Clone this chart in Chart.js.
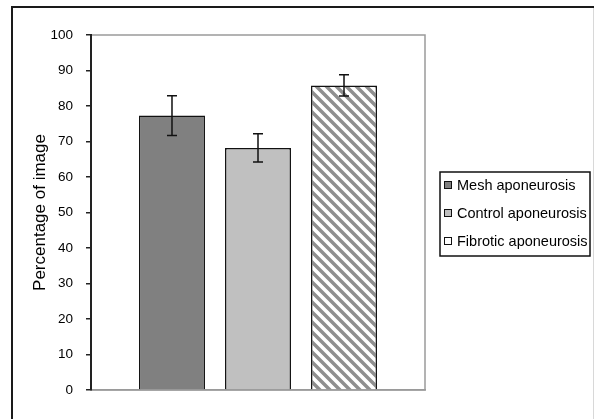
<!DOCTYPE html>
<html>
<head>
<meta charset="utf-8">
<script src="https://cdn.jsdelivr.net/npm/chart.js@4/dist/chart.umd.min.js"></script>
<style>
  html, body { margin: 0; padding: 0; background: #fff; }
  #wrap { position: relative; width: 594px; height: 419px; }
</style>
</head>
<body>
<div id="wrap"><canvas id="c" width="594" height="419"></canvas></div>
<script>
// ---- data ----
const categories = [''];
const seriesNames = ['Mesh aponeurosis', 'Control aponeurosis', 'Fibrotic aponeurosis'];
const seriesMeans = [77.3, 68.2, 85.8];
const seriesErrors = [5.6, 4.0, 3.0];
const yTickValues = [0, 10, 20, 30, 40, 50, 60, 70, 80, 90, 100];
const yTitle = 'Percentage of image';

// ---- styles ----
const FONT = "'Liberation Sans', Arial, sans-serif";

function hatchPattern() {
  const s = 10;
  const pc = document.createElement('canvas');
  pc.width = s; pc.height = s;
  const g = pc.getContext('2d');
  g.fillStyle = '#ffffff';
  g.fillRect(0, 0, s, s);
  g.strokeStyle = '#8f8f8f';
  g.lineWidth = 3.5;
  g.beginPath();
  g.moveTo(-s, 0); g.lineTo(s, 2 * s);
  g.moveTo(0, 0); g.lineTo(s, s);
  g.moveTo(0, -s); g.lineTo(2 * s, s);
  g.stroke();
  return document.getElementById('c').getContext('2d').createPattern(pc, 'repeat');
}

const fills = ['#808080', '#c0c0c0', hatchPattern()];
const legendFills = ['#808080', '#c0c0c0', '#ffffff'];

const datasets = seriesNames.map((name, i) => ({
  label: name,
  data: [seriesMeans[i]],
  backgroundColor: fills[i],
  borderColor: '#111',
  borderWidth: 1.5,
  categoryPercentage: 0.7725,
  barPercentage: 0.767
}));

const framePlugin = {
  id: 'frame',
  beforeDraw(chart) {
    const ctx = chart.ctx;
    const a = chart.chartArea;
    ctx.save();
    ctx.strokeStyle = '#1a1a1a';
    ctx.lineWidth = 2;
    ctx.beginPath();
    ctx.moveTo(12, 425);
    ctx.lineTo(12, 7);
    ctx.lineTo(600, 7);
    ctx.stroke();
    ctx.strokeStyle = '#d8d8d8';
    ctx.lineWidth = 1;
    ctx.beginPath();
    ctx.moveTo(593.5, 8);
    ctx.lineTo(593.5, 419);
    ctx.stroke();
    ctx.strokeStyle = '#9a9a9a';
    ctx.lineWidth = 1.5;
    ctx.strokeRect(a.left, a.top, a.right - a.left, a.bottom - a.top);
    ctx.restore();
  }
};

const errorPlugin = {
  id: 'errbars',
  afterDatasetsDraw(chart) {
    const ctx = chart.ctx;
    const ys = chart.scales.y;
    ctx.save();
    ctx.strokeStyle = '#111';
    ctx.lineWidth = 1.5;
    chart.data.datasets.forEach((ds, i) => {
      const meta = chart.getDatasetMeta(i);
      meta.data.forEach((bar) => {
        const x = bar.x;
        const yt = ys.getPixelForValue(seriesMeans[i] + seriesErrors[i]);
        const yb = ys.getPixelForValue(seriesMeans[i] - seriesErrors[i]);
        ctx.beginPath();
        ctx.moveTo(x, yt); ctx.lineTo(x, yb);
        ctx.moveTo(x - 5, yt); ctx.lineTo(x + 5, yt);
        ctx.moveTo(x - 5, yb); ctx.lineTo(x + 5, yb);
        ctx.stroke();
      });
    });
    ctx.restore();
  }
};

const legendPlugin = {
  id: 'boxlegend',
  afterDraw(chart) {
    const ctx = chart.ctx;
    ctx.save();
    ctx.strokeStyle = '#111';
    ctx.lineWidth = 1.5;
    ctx.strokeRect(440, 172, 150, 84);
    ctx.font = '14.5px ' + FONT;
    ctx.textBaseline = 'middle';
    ctx.textAlign = 'left';
    chart.data.datasets.forEach((ds, i) => {
      const y = 185 + i * 28;
      ctx.fillStyle = legendFills[i];
      ctx.fillRect(444, y - 3.5, 7, 7);
      ctx.lineWidth = 1;
      ctx.strokeStyle = '#111';
      ctx.strokeRect(444.5, y - 3.5, 7, 7);
      ctx.fillStyle = '#000';
      ctx.fillText(ds.label, 457, y + 0.5);
    });
    ctx.restore();
  }
};

new Chart(document.getElementById('c'), {
  type: 'bar',
  data: { labels: categories, datasets },
  options: {
    responsive: false,
    animation: false,
    devicePixelRatio: 1,
    layout: { padding: { left: 0, right: 169, top: 35, bottom: 28 } },
    plugins: { legend: { display: false }, tooltip: { enabled: false } },
    scales: {
      x: {
        ticks: { display: false },
        grid: { display: false, drawTicks: false },
        border: { display: true, color: '#9a9a9a', width: 1.5 },
        afterFit(scale) { scale.height = 1; }
      },
      y: {
        min: 0,
        max: 100,
        afterBuildTicks(scale) { scale.ticks = yTickValues.map(v => ({ value: v })); },
        ticks: {
          font: { family: FONT, size: 13.5 },
          color: '#000',
          padding: 13
        },
        grid: { drawOnChartArea: false, drawTicks: true, tickLength: 5, color: '#222', lineWidth: 1.5 },
        border: { display: true, color: '#222', width: 2 },
        title: {
          display: true,
          text: yTitle,
          font: { family: FONT, size: 17 },
          color: '#000',
          padding: { top: 30, bottom: 0 }
        },
        afterFit(scale) { scale.width = 91; }
      }
    }
  },
  plugins: [framePlugin, errorPlugin, legendPlugin]
});
</script>
</body>
</html>
